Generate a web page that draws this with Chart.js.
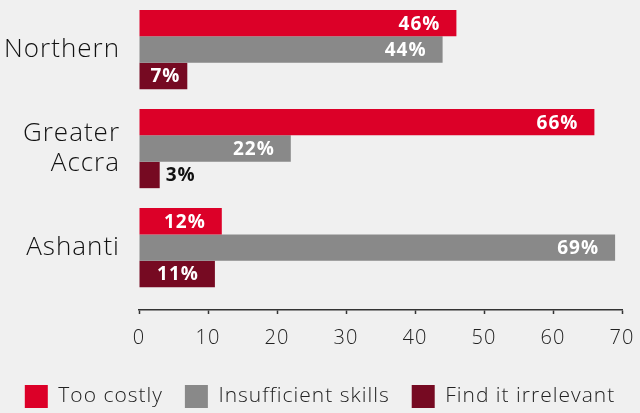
<!DOCTYPE html>
<html>
<head>
<meta charset="utf-8">
<style>
  html, body { margin: 0; padding: 0; background: #f0f0f0; }
  #wrap { width: 640px; height: 413px; }
</style>
<script src="https://cdn.jsdelivr.net/npm/chart.js@4/dist/chart.umd.min.js"></script>
</head>
<body>
<div id="wrap"><canvas id="chart" width="640" height="413"></canvas></div>
<script>
// Regions (multi-line labels as arrays)
const regions = [['Northern'], ['Greater', 'Accra'], ['Ashanti']];
// Series names
const seriesNames = ['Too costly', 'Insufficient skills', 'Find it irrelevant'];
// Share of respondents (%) per region
const tooCostly = [46, 66, 12];
const insufficientSkills = [44, 22, 69];
const findIrrelevant = [7, 3, 11];
// Value axis ticks
const xTicks = [0, 10, 20, 30, 40, 50, 60, 70];

const seriesColors = ['#dc0028', '#898989', '#760a22'];
const FONT = '"Open Sans", sans-serif';
Chart.defaults.font.family = FONT;

const toPoints = arr => arr.map((v, i) => ({ x: v, y: i }));

// Slightly wider tracking for all canvas text
const tracking = {
  id: 'tracking',
  beforeUpdate(chart) { chart.ctx.letterSpacing = '1px'; },
  beforeDraw(chart) { chart.ctx.letterSpacing = '1px'; }
};

// Percent labels drawn at the end of each bar
const valueLabels = {
  id: 'valueLabels',
  afterDatasetsDraw(chart) {
    const ctx = chart.ctx;
    ctx.save();
    ctx.letterSpacing = '1px';
    ctx.font = 'bold 19px ' + FONT;
    ctx.textBaseline = 'middle';
    chart.data.datasets.forEach((ds, di) => {
      const meta = chart.getDatasetMeta(di);
      meta.data.forEach((bar, i) => {
        const text = ds.data[i].x + '%';
        const w = ctx.measureText(text).width;
        const left = Math.min(bar.base, bar.x);
        const right = Math.max(bar.base, bar.x);
        if (right - left < w + 14) {
          ctx.fillStyle = '#111';
          ctx.textAlign = 'left';
          ctx.fillText(text, right + 6, bar.y + 1);
        } else {
          ctx.fillStyle = '#fff';
          ctx.textAlign = 'right';
          let x = right - 16;
          if (x - w < left + 11) x = left + 11 + w;
          ctx.fillText(text, x, bar.y + 1);
        }
      });
    });
    ctx.restore();
  }
};

new Chart(document.getElementById('chart'), {
  type: 'bar',
  data: {
    datasets: [
      { label: seriesNames[0], data: toPoints(tooCostly), backgroundColor: seriesColors[0] },
      { label: seriesNames[1], data: toPoints(insufficientSkills), backgroundColor: seriesColors[1] },
      { label: seriesNames[2], data: toPoints(findIrrelevant), backgroundColor: seriesColors[2] }
    ]
  },
  options: {
    indexAxis: 'y',
    responsive: false,
    animation: false,
    events: [],
    categoryPercentage: 0.8,
    barPercentage: 1.0,
    layout: { padding: { top: 0, right: 0, left: 0, bottom: -5 } },
    scales: {
      y: {
        type: 'linear',
        reverse: true,
        min: -0.5,
        max: 2.63,
        offset: false,
        grid: { display: false, drawTicks: false },
        border: { display: false },
        afterBuildTicks: s => { s.ticks = regions.map((r, i) => ({ value: i })); },
        afterFit: s => { s.width = 139; s.paddingTop = 0; s.paddingBottom = 0; },
        ticks: {
          autoSkip: false,
          padding: 19,
          color: '#111',
          font: { size: 26, weight: '300', lineHeight: 1.15 },
          callback: v => regions[v]
        }
      },
      x: {
        type: 'linear',
        min: 0,
        max: 70,
        grid: { display: true, drawOnChartArea: false, drawTicks: true, tickLength: 4, color: '#333', tickWidth: 1.5 },
        border: { display: true, color: '#333', width: 1.5 },
        afterBuildTicks: s => { s.ticks = xTicks.map(v => ({ value: v })); },
        afterFit: s => { s.height = 53; s.paddingRight = 18; },
        ticks: { color: '#222', font: { size: 20, weight: '300' }, padding: 12 }
      }
    },
    plugins: {
      legend: {
        position: 'bottom',
        labels: {
          boxWidth: 23,
          boxHeight: 23,
          color: '#222',
          font: { size: 21, weight: '300' },
          padding: 22
        }
      },
      tooltip: { enabled: false }
    }
  },
  plugins: [tracking, valueLabels]
});
</script>
</body>
</html>
